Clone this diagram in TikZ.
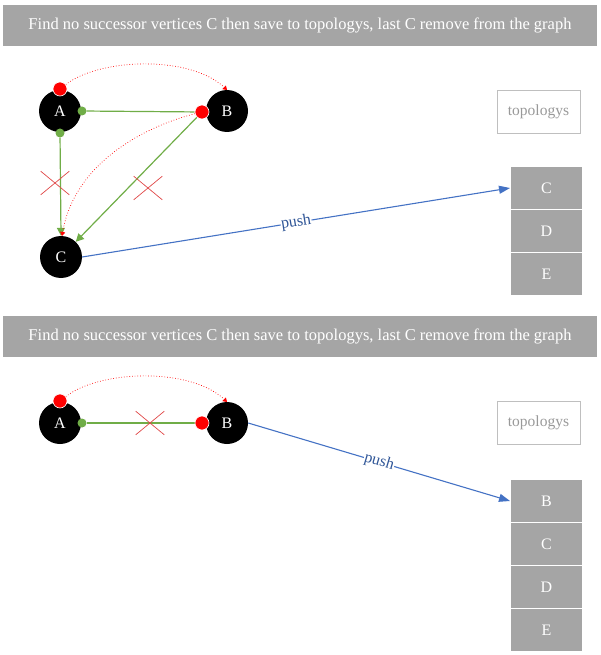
\documentclass[tikz,border=0pt]{standalone}
\usepackage{fontspec}
\setmainfont{Liberation Serif}
\usetikzlibrary{arrows.meta,shapes.misc}
\definecolor{hdr}{HTML}{A5A5A5}
\definecolor{grn}{HTML}{70AD47}
\definecolor{blu}{HTML}{4472C4}
\definecolor{pushc}{HTML}{2F5597}
\definecolor{crs}{HTML}{E04848}
\definecolor{tbord}{HTML}{BFBFBF}
\definecolor{ttext}{HTML}{999999}
\pgfdeclarelayer{bg}
\pgfsetlayers{bg,main}
\begin{document}
\begin{tikzpicture}[x=1pt,y=-1pt,
  banner/.style={fill=hdr,minimum width=594pt,minimum height=41pt,inner sep=0pt,text=white,font=\fontsize{16.5}{18}\selectfont},
  vtx/.style={circle,fill=black,minimum size=42pt,inner sep=0pt,text=white,font=\fontsize{16}{18}\selectfont},
  rdot/.style={circle,fill=red,draw=white,line width=0.6pt,minimum size=14pt,inner sep=0pt},
  gdot/.style={circle,fill=grn,minimum size=9pt,inner sep=0pt},
  stackbox/.style={rectangle,fill=hdr,draw=white,line width=1pt,minimum width=72pt,minimum height=43pt,inner sep=0pt,text=white,font=\fontsize{16}{18}\selectfont},
  topobox/.style={rectangle,draw=tbord,fill=white,line width=0.8pt,minimum width=83pt,minimum height=43pt,inner sep=0pt,text=ttext,font=\fontsize{15.5}{18}\selectfont},
  xmark/.style={cross out,draw=crs,line width=0.7pt,minimum width=28pt,minimum height=23pt,inner sep=0pt},
  gline/.style={draw=grn,line width=1.2pt},
  garrow/.style={gline,-{Triangle[length=8pt,width=8pt]}},
  rcurve/.style={draw=red,line width=0.7pt,dotted,-{Triangle[length=4pt,width=5pt]}},
  bline/.style={draw=blu,line width=1.1pt,-{Triangle[length=11pt,width=8pt]}},
  pushlbl/.style={midway,sloped,fill=white,inner sep=0.5pt,text=pushc,font=\fontsize{16}{18}\selectfont}]
\useasboundingbox (0,0) rectangle (600,655);

% ---------- top panel ----------
\node[banner] (h1) at (300,25.5) {Find no successor vertices C then save to topologys, last C remove from the graph};
\node[vtx] (A) at (60,111) {A};
\node[vtx] (B) at (227,111) {B};
\node[vtx] (C) at (61,257) {C};
\node[rdot] (ra) at (60,89) {};
\node[rdot] (rb) at (202,112) {};
\node[gdot] (ga) at (82,111) {};
\node[gdot] (gb) at (60,133) {};
\coordinate (btop) at (227,90);
\coordinate (ctop) at (62,236);
\node[topobox] (t1) at (538.5,111.5) {topologys};
\node[stackbox] (s1) at (546.5,188) {C};
\node[stackbox] (s2) at (546.5,231) {D};
\node[stackbox] (s3) at (546.5,274) {E};
\node[xmark] (x1) at (55,183) {};
\node[xmark] (x2) at (148,188) {};
\begin{pgfonlayer}{bg}
  \draw[gline] (ga) -- (rb);
  \draw[garrow] (gb) -- (C.north);
  \draw[garrow] (rb) -- (C);
  \draw[rcurve] (ra) .. controls (100,58) and (190,55) .. (btop);
  \draw[rcurve] (rb) .. controls (150,125) and (75,160) .. (ctop);
\end{pgfonlayer}
\draw[bline] (C.east) -- node[pushlbl] {push} (s1.west);

% ---------- bottom panel ----------
\node[banner] (h2) at (300,336.5) {Find no successor vertices C then save to topologys, last C remove from the graph};
\node[vtx] (A2) at (60,423) {A};
\node[vtx] (B2) at (227,423) {B};
\node[rdot] (ra2) at (60,401) {};
\node[rdot] (rb2) at (202,423) {};
\node[gdot] (ga2) at (82,423) {};
\coordinate (btop2) at (227,402);
\node[topobox] (t2) at (538.5,423) {topologys};
\node[stackbox] (u1) at (546.5,501) {B};
\node[stackbox] (u2) at (546.5,544) {C};
\node[stackbox] (u3) at (546.5,587) {D};
\node[stackbox] (u4) at (546.5,630) {E};
\node[xmark] (x3) at (150,423) {};
\begin{pgfonlayer}{bg}
  \draw[gline] (ga2) -- (rb2);
  \draw[rcurve] (ra2) .. controls (100,370) and (190,367) .. (btop2);
\end{pgfonlayer}
\draw[bline] (B2.east) -- node[pushlbl] {push} (u1.west);
\end{tikzpicture}
\end{document}
